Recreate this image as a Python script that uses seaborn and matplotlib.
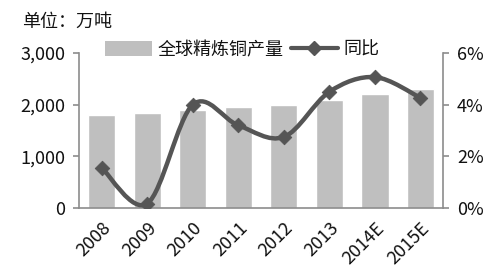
import matplotlib
matplotlib.use("Agg")
import matplotlib.pyplot as plt
import seaborn as sns
import pandas as pd
import numpy as np
from matplotlib.path import Path
from matplotlib.patches import PathPatch, Patch
from matplotlib.lines import Line2D
from matplotlib.ticker import FuncFormatter

years = ["2008", "2009", "2010", "2011", "2012", "2013", "2014E", "2015E"]
output = [1800, 1830, 1900, 1960, 2000, 2090, 2205, 2305]
yoy = [1.55, 0.17, 4.0, 3.2, 2.75, 4.5, 5.07, 4.27]

sns.set_theme(style="white")
plt.rcParams['font.family'] = ['Noto Sans CJK SC', 'DejaVu Sans']

BAR = "#bfbfbf"
LINE = "#555555"
AX = "#8c8c8c"
TXT = "#111111"

fig = plt.figure(figsize=(4.94, 2.78), dpi=100)
ax = fig.add_axes([0.16, 0.252, 0.737, 0.557])

df = pd.DataFrame({"year": years, "output": output, "yoy": yoy})
sns.barplot(data=df, x="year", y="output", color=BAR, width=0.6,
            saturation=1, ax=ax, zorder=1)
ax.set_ylim(0, 3000)
ax.set_yticks([0, 1000, 2000, 3000])
ax.yaxis.set_major_formatter(FuncFormatter(lambda v, p: f"{int(v):,}"))
ax.set_xlabel("")
ax.set_ylabel("")
ax.set_xlim(-0.5, len(years) - 0.5)

ax2 = ax.twinx()
ax2.set_ylim(0, 6)
ax2.set_yticks([0, 2, 4, 6])
ax2.yaxis.set_major_formatter(FuncFormatter(lambda v, p: f"{int(v)}%"))

# smoothed line (Catmull-Rom as Bezier) through the data points
xs = np.arange(len(years), dtype=float)
ys = np.array(yoy, dtype=float)
verts = [(xs[0], ys[0])]
codes = [Path.MOVETO]
t = 1.0 / 6.0
for i in range(len(xs) - 1):
    p0 = np.array([xs[max(i - 1, 0)], ys[max(i - 1, 0)]])
    p1 = np.array([xs[i], ys[i]])
    p2 = np.array([xs[i + 1], ys[i + 1]])
    p3 = np.array([xs[min(i + 2, len(xs) - 1)], ys[min(i + 2, len(xs) - 1)]])
    c1 = p1 + (p2 - p0) * t
    c2 = p2 - (p3 - p1) * t
    verts += [tuple(c1), tuple(c2), tuple(p2)]
    codes += [Path.CURVE4] * 3
ax2.add_patch(PathPatch(Path(verts, codes), fill=False, edgecolor=LINE,
                        lw=3.2, zorder=3, capstyle="round", joinstyle="round"))
sns.scatterplot(x=xs, y=ys, marker="D", s=55, color=LINE, edgecolor=LINE,
                ax=ax2, zorder=4, legend=False)

for a in (ax, ax2):
    for s in a.spines.values():
        s.set_color(AX)
        s.set_linewidth(1.2)
    a.spines["top"].set_visible(False)
ax.spines["right"].set_visible(False)
ax2.spines["left"].set_visible(False)
ax2.spines["bottom"].set_visible(False)

ax.tick_params(axis="y", which="both", left=True, length=4, width=1.2,
               color=AX, labelsize=13, labelcolor=TXT, pad=6)
ax.tick_params(axis="x", bottom=False, labelsize=13, labelcolor=TXT, pad=2)
ax2.tick_params(axis="y", right=True, length=4, width=1.2, color=AX,
                labelsize=13, labelcolor=TXT, pad=6)
for lab in ax.get_xticklabels():
    lab.set_rotation(45)
    lab.set_ha("right")
    lab.set_rotation_mode("anchor")

fig.text(0.045, 0.955, "单位：万吨", fontsize=13, color=TXT, va="top", ha="left")

handles = [Patch(facecolor=BAR, edgecolor="none"),
           Line2D([0], [0], color=LINE, lw=3, marker="D", markersize=7)]
fig.legend(handles, ["全球精炼铜产量", "同比"], loc="center",
           bbox_to_anchor=(0.49, 0.82), ncol=2, frameon=False, fontsize=13,
           handlelength=2.6, handleheight=0.9, columnspacing=0.4,
           handletextpad=0.3, labelcolor=TXT)

fig.savefig("out.png", dpi=100)
